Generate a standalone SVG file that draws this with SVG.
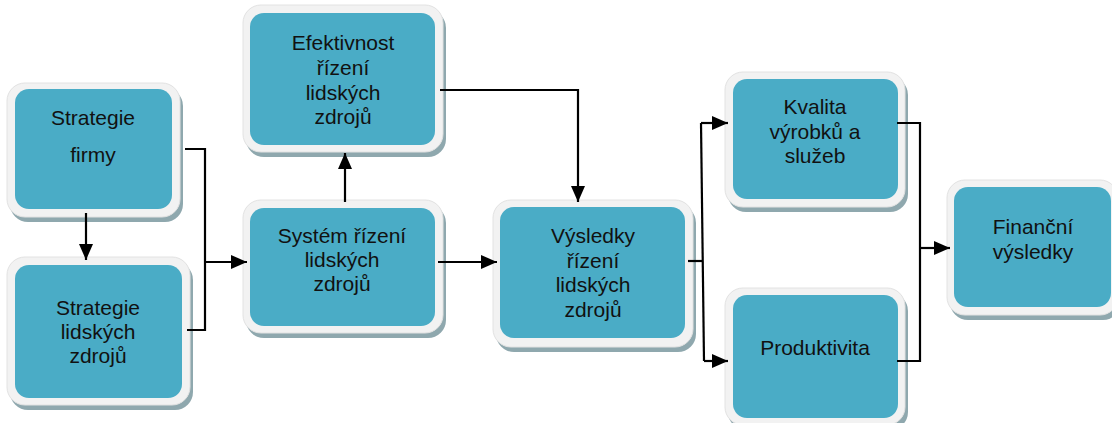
<svg xmlns="http://www.w3.org/2000/svg" width="1112" height="423" viewBox="0 0 1112 423">
<style>
.sh{fill:#8fa8ae}
.out{fill:#f2f2f2;stroke:#e2e2e2;stroke-width:1}
.in{fill:#4aacc6}
text{font-family:"Liberation Sans",Arial,sans-serif;font-size:21px;fill:#111;text-anchor:middle}
.c{fill:none;stroke:#000;stroke-width:2.2}
</style>
<defs>
<marker id="ah" viewBox="0 0 16 14" refX="16" refY="7" markerWidth="16" markerHeight="14" markerUnits="userSpaceOnUse" orient="auto">
<path d="M0,0 L16,7 L0,14 z" fill="#000"/>
</marker>
</defs>
<rect width="1112" height="423" fill="#fff"/>
<g id="n1">
<rect class="sh" x="10" y="88" width="173" height="134" rx="18"/>
<rect class="out" x="7" y="83" width="173" height="134" rx="18"/>
<rect class="in" x="15" y="89" width="157" height="120" rx="14"/>
<text x="93" y="125">Strategie</text>
<text x="93" y="162">firmy</text>
</g>
<g id="n2">
<rect class="sh" x="10" y="262" width="183" height="148" rx="18"/>
<rect class="out" x="7" y="257" width="183" height="148" rx="18"/>
<rect class="in" x="15" y="265" width="167" height="133" rx="14"/>
<text x="98" y="315">Strategie</text>
<text x="98" y="339">lidských</text>
<text x="98" y="363">zdrojů</text>
</g>
<g id="n3">
<rect class="sh" x="246" y="10" width="200" height="147" rx="18"/>
<rect class="out" x="243" y="5" width="200" height="147" rx="18"/>
<rect class="in" x="250" y="13" width="185" height="132" rx="14"/>
<text x="343" y="50">Efektivnost</text>
<text x="343" y="75">řízení</text>
<text x="343" y="100">lidských</text>
<text x="343" y="124">zdrojů</text>
</g>
<g id="n4">
<rect class="sh" x="246" y="205" width="200" height="133" rx="18"/>
<rect class="out" x="243" y="200" width="200" height="133" rx="18"/>
<rect class="in" x="250" y="208" width="185" height="118" rx="14"/>
<text x="342" y="243">Systém řízení</text>
<text x="342" y="267">lidských</text>
<text x="342" y="291">zdrojů</text>
</g>
<g id="n5">
<rect class="sh" x="496" y="205" width="200" height="147" rx="18"/>
<rect class="out" x="493" y="200" width="200" height="147" rx="18"/>
<rect class="in" x="500" y="207" width="185" height="131" rx="14"/>
<text x="593" y="243">Výsledky</text>
<text x="593" y="268">řízení</text>
<text x="593" y="292">lidských</text>
<text x="593" y="317">zdrojů</text>
</g>
<g id="n6">
<rect class="sh" x="728" y="77" width="180" height="135" rx="18"/>
<rect class="out" x="725" y="72" width="180" height="135" rx="18"/>
<rect class="in" x="733" y="79" width="165" height="120" rx="14"/>
<text x="815" y="114">Kvalita</text>
<text x="815" y="139">výrobků a</text>
<text x="815" y="163">služeb</text>
</g>
<g id="n7">
<rect class="sh" x="728" y="293" width="180" height="137" rx="18"/>
<rect class="out" x="725" y="288" width="180" height="137" rx="18"/>
<rect class="in" x="733" y="295" width="165" height="123" rx="14"/>
<text x="815" y="355">Produktivita</text>
</g>
<g id="n8">
<rect class="sh" x="950" y="185" width="171" height="135" rx="18"/>
<rect class="out" x="947" y="180" width="171" height="135" rx="18"/>
<rect class="in" x="954" y="187" width="157" height="120" rx="14"/>
<text x="1033" y="234">Finanční</text>
<text x="1033" y="259">výsledky</text>
</g>
<g id="connectors">
<path class="c" d="M86,213 L86,260" marker-end="url(#ah)"/>
<path class="c" d="M185,149 H205 V330 H187"/>
<path class="c" d="M205,262 H247" marker-end="url(#ah)"/>
<path class="c" d="M345,202 V153" marker-end="url(#ah)"/>
<path class="c" d="M440,90 H578 V202" marker-end="url(#ah)"/>
<path class="c" d="M438,262 H497" marker-end="url(#ah)"/>
<path class="c" d="M688,261 H703"/>
<path class="c" d="M701,123 L704,361"/>
<path class="c" d="M701,123 H728" marker-end="url(#ah)"/>
<path class="c" d="M704,361 H728" marker-end="url(#ah)"/>
<path class="c" d="M897,123 H920 V361 H897"/>
<path class="c" d="M920,248 H950" marker-end="url(#ah)"/>
</g>
</svg>
